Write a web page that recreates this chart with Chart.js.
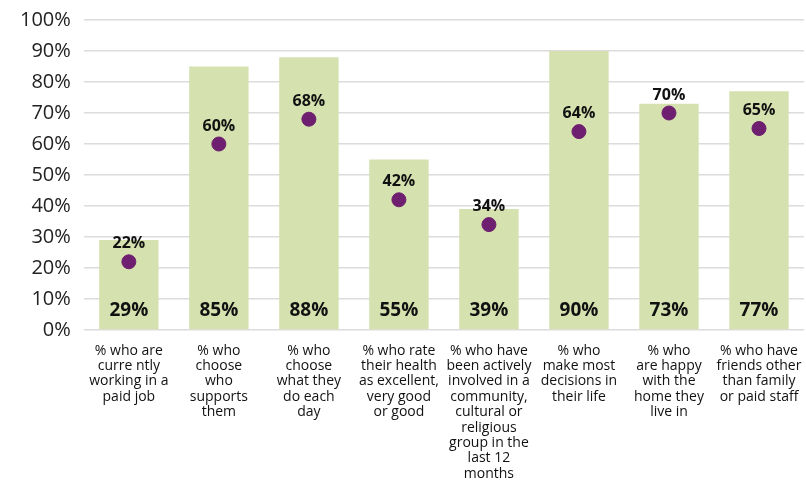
<!DOCTYPE html>
<html>
<head>
<meta charset="utf-8">
<script src="https://cdn.jsdelivr.net/npm/chart.js@4"></script>
<style>
  html, body { margin: 0; padding: 0; background: #fff; overflow: hidden; }
  #wrap { width: 812px; height: 481px; }
</style>
</head>
<body>
<div id="wrap"><canvas id="grafico"></canvas></div>
<script>
// Dados do gráfico
var categorias = [
  ['% who are', 'curre ntly', 'working in a', 'paid job'],
  ['% who', 'choose', 'who', 'supports', 'them'],
  ['% who', 'choose', 'what they', 'do each', 'day'],
  ['% who rate', 'their health', 'as excellent,', 'very good', 'or good'],
  ['% who have', 'been actively', 'involved in a', 'community,', 'cultural or', 'religious', 'group in the', 'last 12', 'months'],
  ['% who', 'make most', 'decisions in', 'their life'],
  ['% who', 'are happy', 'with the', 'home they', 'live in'],
  ['% who have', 'friends other', 'than family', 'or paid staff']
];
var valoresBarra = [29, 85, 88, 55, 39, 90, 73, 77];
var valoresPonto = [22, 60, 68, 42, 34, 64, 70, 65];
var ticksY = [0, 10, 20, 30, 40, 50, 60, 70, 80, 90, 100];

var fonte = '"Open Sans", "Noto Sans", sans-serif';

// Plugin simples para escrever os rótulos
var rotulos = {
  id: 'rotulos',
  afterDatasetsDraw: function (chart) {
    var ctx = chart.ctx;
    ctx.save();
    ctx.fillStyle = '#111';
    ctx.textAlign = 'center';
    ctx.textBaseline = 'middle';
    // valores das barras, embaixo
    ctx.font = 'bold 19px ' + fonte;
    var barras = chart.getDatasetMeta(1).data;
    var yBase = chart.scales.y.getPixelForValue(0);
    barras.forEach(function (b, i) {
      ctx.fillText(valoresBarra[i] + '%', b.x, yBase - 19);
    });
    // valores dos pontos, acima
    ctx.font = 'bold 16px ' + fonte;
    var pontos = chart.getDatasetMeta(0).data;
    pontos.forEach(function (p, i) {
      ctx.fillText(valoresPonto[i] + '%', p.x, p.y - 18);
    });
    ctx.restore();
  }
};

var ctx1 = document.getElementById('grafico').getContext('2d');
var grafico = new Chart(ctx1, {
  data: {
    labels: categorias,
    datasets: [{
      type: 'scatter',
      data: valoresPonto.map(function (v, i) { return { x: i, y: v }; }),
      backgroundColor: '#6e1f6f',
      borderColor: '#6e1f6f',
      pointRadius: 7,
      pointHoverRadius: 7,
      showLine: false,
      order: 0
    }, {
      type: 'bar',
      data: valoresBarra,
      backgroundColor: '#d5e1af',
      categoryPercentage: 1,
      barPercentage: 0.66,
      order: 1
    }]
  },
  options: {
    responsive: true,
    maintainAspectRatio: false,
    animation: false,
    layout: { padding: { top: 20, right: 2, left: 7, bottom: 0 } },
    plugins: {
      legend: { display: false },
      tooltip: { enabled: false }
    },
    scales: {
      x: {
        type: 'category',
        offset: true,
        afterFit: function (axis) {
          axis.paddingRight = 0;
          axis.paddingLeft = 0;
          axis.height = 151;
        },
        grid: { display: false },
        border: { display: false },
        ticks: {
          color: '#111',
          font: { family: fonte, size: 14, lineHeight: 1.1 },
          maxRotation: 0,
          autoSkip: false,
          padding: 5
        }
      },
      y: {
        min: 0,
        max: 100,
        afterBuildTicks: function (axis) {
          axis.ticks = ticksY.map(function (v) { return { value: v }; });
        },
        afterFit: function (axis) {
          axis.paddingTop = 0;
          axis.paddingBottom = 0;
        },
        ticks: {
          color: '#222',
          font: { family: fonte, size: 20 },
          padding: 13,
          callback: function (value) { return value + '%'; }
        },
        grid: { color: '#dcdcdc', drawTicks: false, lineWidth: 1.5 },
        border: { display: false }
      }
    }
  },
  plugins: [rotulos]
});
</script>
</body>
</html>
